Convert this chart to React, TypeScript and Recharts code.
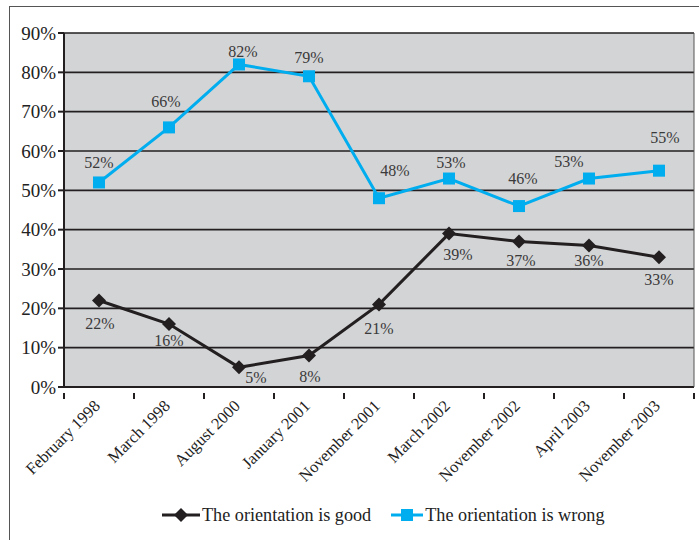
import React from 'react';
import { LineChart, Line, XAxis, YAxis, CartesianGrid, Legend, LabelList } from 'recharts';

const periods = [
  'February 1998',
  'March 1998',
  'August 2000',
  'January 2001',
  'November 2001',
  'March 2002',
  'November 2002',
  'April 2003',
  'November 2003',
];
const good = [22, 16, 5, 8, 21, 39, 37, 36, 33];
const wrong = [52, 66, 82, 79, 48, 53, 46, 53, 55];
const yTicks = [0, 10, 20, 30, 40, 50, 60, 70, 80, 90];

const data = periods.map((period, i) => ({ period, good: good[i], wrong: wrong[i] }));

// label nudges (dx, dy) relative to each point, taken from the original layout
const wrongLabelShift = [[0, -20], [-3, -26], [4, -13], [0, -19], [16, -28], [2, -16], [4, -28], [-20, -17], [6, -33]];
const goodLabelShift = [[1, 23], [0, 16], [17, 10], [1, 21], [0, 24], [9, 21], [2, 19], [0, 15], [0, 22]];

const BLUE = '#00adef';
const DARK = '#231f20';
const FONT = '"Liberation Serif", "DejaVu Serif", serif';
const BAND_HALF = 35;

const Square = (props: any) => {
  const { cx, cy, index } = props;
  return <rect key={`sq-${index}`} x={cx - 6} y={cy - 6} width={12} height={12} fill={BLUE} />;
};

const Diamond = (props: any) => {
  const { cx, cy, index } = props;
  return (
    <polygon
      key={`dm-${index}`}
      points={`${cx},${cy - 7} ${cx + 7},${cy} ${cx},${cy + 7} ${cx - 7},${cy}`}
      fill={DARK}
    />
  );
};

const makeLabel = (shift: number[][]) => (props: any) => {
  const { x, y, value, index } = props;
  const [dx, dy] = shift[index] || [0, 0];
  return (
    <text
      x={x + dx}
      y={y + dy}
      textAnchor="middle"
      dominantBaseline="central"
      fontFamily={FONT}
      fontSize={16}
      fill="#3a3a3a"
    >
      {value}%
    </text>
  );
};

const XTick = (props: any) => {
  const { x, y, payload, index } = props;
  const axisY = y - 2;
  return (
    <g>
      <line x1={x - BAND_HALF} x2={x - BAND_HALF} y1={axisY} y2={axisY + 6} stroke={DARK} strokeWidth={2} />
      {index === periods.length - 1 && (
        <line x1={x + BAND_HALF} x2={x + BAND_HALF} y1={axisY} y2={axisY + 6} stroke={DARK} strokeWidth={2} />
      )}
      <text
        transform={`translate(${x + 2},${axisY + 14}) rotate(-45)`}
        textAnchor="end"
        fontFamily={FONT}
        fontSize={16.5}
        fill="#222"
      >
        {payload.value}
      </text>
    </g>
  );
};

const LegendBox = () => (
  <div style={{ display: 'flex', alignItems: 'center', height: 24, marginLeft: 162, fontFamily: FONT, fontSize: 18.2, color: '#222' }}>
    <svg width={38} height={16}>
      <line x1={0} x2={38} y1={8} y2={8} stroke={DARK} strokeWidth={3} />
      <polygon points="19,1 26,8 19,15 12,8" fill={DARK} />
    </svg>
    <span style={{ marginLeft: 2 }}>The orientation is good</span>
    <svg width={32} height={16} style={{ marginLeft: 20 }}>
      <line x1={0} x2={32} y1={8} y2={8} stroke={BLUE} strokeWidth={3} />
      <rect x={10} y={2} width={12} height={12} fill={BLUE} />
    </svg>
    <span style={{ marginLeft: 2 }}>The orientation is wrong</span>
  </div>
);

export default function App() {
  return (
    <div style={{ position: 'absolute', left: 0, top: 0, width: 699, height: 540, overflow: 'hidden', background: '#fff' }}>
      <div style={{ position: 'absolute', left: 9, top: 6, width: 720, height: 560, border: '1px solid #555' }} />
      <div style={{ position: 'absolute', left: 0, top: 0 }}>
        <LineChart width={699} height={540} data={data} margin={{ top: 33, right: 0, left: 0, bottom: 13 }}>
          <CartesianGrid vertical={false} stroke={DARK} strokeWidth={1.6} fill="#d3d4d6" yAxisId="left" />
          <XAxis
            dataKey="period"
            height={116}
            interval={0}
            padding={{ left: BAND_HALF, right: BAND_HALF }}
            tickLine={false}
            tick={<XTick />}
            axisLine={{ stroke: DARK, strokeWidth: 2 }}
          />
          <YAxis
            yAxisId="left"
            domain={[0, 90]}
            ticks={yTicks}
            width={64}
            tickFormatter={(v: number) => `${v}%`}
            tick={{ fontFamily: FONT, fontSize: 19, fill: '#222' }}
            tickLine={{ stroke: DARK, strokeWidth: 2 }}
            tickSize={6}
            axisLine={{ stroke: DARK, strokeWidth: 2 }}
          />
          <YAxis
            yAxisId="right"
            orientation="right"
            domain={[0, 90]}
            ticks={yTicks}
            width={5}
            tick={false}
            tickLine={false}
            axisLine={{ stroke: '#555', strokeWidth: 1 }}
          />
          <Legend verticalAlign="bottom" content={<LegendBox />} />
          <Line
            yAxisId="left"
            dataKey="good"
            stroke={DARK}
            strokeWidth={3}
            dot={Diamond}
            activeDot={false}
            isAnimationActive={false}
          >
            <LabelList dataKey="good" content={makeLabel(goodLabelShift)} />
          </Line>
          <Line
            yAxisId="left"
            dataKey="wrong"
            stroke={BLUE}
            strokeWidth={3}
            dot={Square}
            activeDot={false}
            isAnimationActive={false}
          >
            <LabelList dataKey="wrong" content={makeLabel(wrongLabelShift)} />
          </Line>
        </LineChart>
      </div>
    </div>
  );
}
